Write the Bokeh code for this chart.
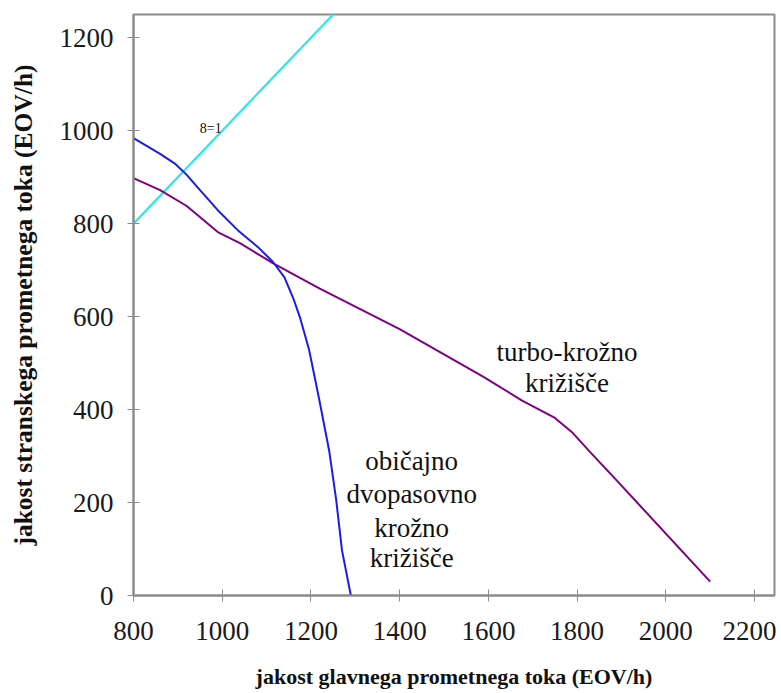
from bokeh.plotting import figure
from bokeh.models import Range1d, FixedTicker
from bokeh.core.properties import value
from bokeh.embed import file_html
from bokeh.resources import INLINE

# Data
turbo_x = [800, 860, 920, 990, 1040, 1114, 1220, 1400, 1590, 1675, 1750, 1790, 1830, 1885, 2100]
turbo_y = [898, 872, 838, 782, 758, 715, 660, 573, 470, 420, 382, 350, 308, 252, 30]

dvo_x = [800, 860, 895, 920, 950, 990, 1035, 1080, 1114, 1140, 1160, 1175, 1196, 1219, 1241, 1257, 1270, 1290]
dvo_y = [984, 950, 928, 905, 872, 829, 786, 750, 718, 685, 640, 599, 528, 420, 312, 205, 97, 0]

eq_x = [800, 1260]
eq_y = [800, 1260]

x_ticks = [800, 1000, 1200, 1400, 1600, 1800, 2000, 2200]
y_ticks = [0, 200, 400, 600, 800, 1000, 1200]

eq_label = ["8=1"]
eq_label_x = [974]
eq_label_y = [1004]

turbo_lines = ["turbo-krožno", "križišče"]
turbo_lx = [1777, 1777]
turbo_ly = [523, 458]

dvo_lines = ["običajno", "dvopasovno", "krožno", "križišče"]
dvo_lx = [1427, 1427, 1427, 1427]
dvo_ly = [290, 219, 146, 80]

SERIF = "Liberation Serif"

p = figure(width=776, height=692, output_backend="svg", toolbar_location=None,
           x_range=Range1d(800, 2245), y_range=Range1d(0, 1250),
           min_border_left=133, min_border_right=2, min_border_top=14, min_border_bottom=97)

p.outline_line_color = "#8c8c8c"
p.outline_line_width = 2
p.xgrid.visible = False
p.ygrid.visible = False
p.background_fill_color = "white"
p.border_fill_color = "white"

for ax in (p.xaxis[0], p.yaxis[0]):
    ax.axis_line_color = "#8c8c8c"
    ax.axis_line_width = 2
    ax.major_tick_line_color = "#8c8c8c"
    ax.major_tick_line_width = 1
    ax.major_tick_in = 6
    ax.major_tick_out = 6
    ax.minor_tick_line_color = None
    ax.major_label_text_font = SERIF
    ax.major_label_text_font_size = "27px"
    ax.major_label_text_color = "#1a1a1a"
    ax.axis_label_text_font = SERIF
    ax.axis_label_text_font_style = "bold"
    ax.axis_label_text_color = "#111111"

p.xaxis.ticker = FixedTicker(ticks=x_ticks)
p.yaxis.ticker = FixedTicker(ticks=y_ticks)
p.xaxis.major_label_standoff = 20
p.yaxis.major_label_standoff = 14
p.xaxis.axis_label = "jakost glavnega prometnega toka (EOV/h)"
p.yaxis.axis_label = "jakost stranskega prometnega toka (EOV/h)"
p.xaxis.axis_label_text_font_size = "22px"
p.yaxis.axis_label_text_font_size = "25.5px"
p.xaxis.axis_label_standoff = 21
p.yaxis.axis_label_standoff = 19

p.line(eq_x, eq_y, line_color="#33e6e6", line_width=2.2)
p.line(turbo_x, turbo_y, line_color="#800080", line_width=2)
p.line(dvo_x, dvo_y, line_color="#1c1ce6", line_width=2)

p.text(eq_label_x, eq_label_y, text=eq_label, text_font=value(SERIF), text_font_size="14px",
       text_align="center", text_baseline="middle", text_color="#111111")
p.text(turbo_lx, turbo_ly, text=turbo_lines, text_font=value(SERIF), text_font_size="27px",
       text_align="center", text_baseline="middle", text_color="#111111")
p.text(dvo_lx, dvo_ly, text=dvo_lines, text_font=value(SERIF), text_font_size="27px",
       text_align="center", text_baseline="middle", text_color="#111111")

open("out.html", "w").write(file_html(p, INLINE))
